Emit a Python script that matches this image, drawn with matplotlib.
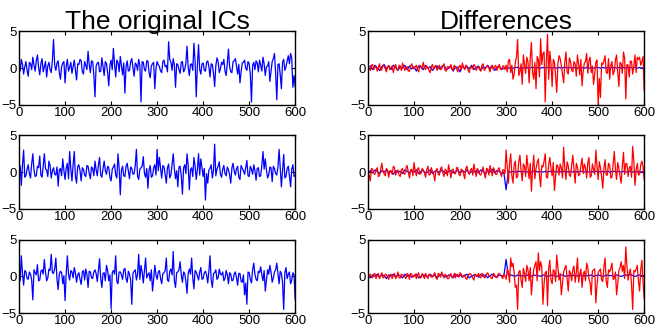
import numpy as np
import matplotlib
matplotlib.use('Agg')
import matplotlib.pyplot as plt

# samples 0, 5, ..., 600 and the in-between samples 2.5, 7.5, ..., 597.5
n = np.arange(0, 601, 5)
n_mid = np.arange(2.5, 600, 5)

# left column: original ICs
ic1 = [0.3, 1.2, -0.8, 0.9, -1.1, 0.6, 1.5, -0.4, 1.8, -0.9,
       1.3, 0.2, -1.2, 0.8, -0.6, 3.9, -0.3, 1.0, -1.5, 0.7,
       -2.0, 1.2, 0.1, -0.7, 1.1, -1.6, 0.5, 1.0, -0.8, 0.4,
       2.3, -0.6, 0.9, -3.9, 0.7, -0.5, 1.4, -1.0, 0.6, -2.4,
       1.1, 2.7, -1.2, 0.8, 1.6, -0.9, -3.4, 1.0, -0.3, 1.3,
       -1.1, 0.5, 1.2, -4.6, 0.8, -0.4, 1.0, -1.3, 0.6, -2.8,
       0.9, 0.2, -0.6, 1.1, 0.4, 3.6, 0.8, 1.3, -2.6, 0.5,
       -0.7, 0.9, -0.2, 3.0, -1.0, 0.6, 3.4, -3.9, 3.2, -0.8,
       0.7, -0.4, 1.0, -1.2, 0.5, -2.5, 1.4, -0.6, 0.8, 1.2,
       -1.0, 2.6, -0.5, 0.9, 1.3, -0.8, -2.0, 0.7, 1.1, -0.3,
       0.6, -4.6, 0.8, 1.0, -0.5, 0.4, 1.5, -1.0, 0.3, -1.8,
       0.9, 2.0, -4.3, 0.6, -2.8, 1.2, 0.2, 1.7, 2.0, -2.6,
       -2.5]
ic1_mid = [-0.4, 0.5, 0.2, -0.3, 0.8, -0.2, 0.4, 1.0, 0.1, 0.6,
           -0.5, 0.9, 0.3, -0.2, 1.1, 0.4, 0.7, -0.6, 0.2, 0.9,
           0.3, -0.4, 0.8, 0.2, -0.3, 0.6, 1.2, -0.5, 0.9, -0.2,
           0.5, 1.0, -0.9, 0.3, 0.8, -0.4, 0.2, 0.9, -0.6, 0.4,
           -0.2, 0.6, 1.1, -0.5, 0.3, 0.7, 0.2, -0.4, 0.9, 0.1,
           0.7, -0.3, 0.4, 0.9, -0.2, 1.0, -0.6, 0.3, 0.8, -0.1,
           0.5, -0.4, 0.9, 0.2, -0.5, 1.2, -0.3, 0.4, 0.6, -0.2,
           0.8, -0.5, 0.7, 0.1, 0.5, -0.3, 1.0, 0.4, -0.2, 0.6,
           -0.3, 0.8, 0.2, 0.6, -0.7, 0.3, 0.9, -0.1, 0.5, -0.4,
           0.7, 0.2, -0.6, 1.0, 0.3, 0.5, -0.5, 0.8, 0.0, 0.9,
           -0.8, 0.4, -0.2, 0.7, 1.1, -0.4, 0.6, 0.2, 0.9, -0.5,
           1.3, -0.7, 0.5, -0.9, 0.8, -0.3, 1.0, 0.6, 1.4, -1.0]
ic2 = [0.2, -1.8, 3.0, -0.5, 1.0, -0.8, 2.5, -0.6, 0.8, 2.2,
       -0.7, 2.5, 0.3, 1.5, -0.8, 0.6, -0.4, -1.9, 0.5, 1.8,
       -1.0, 1.2, 2.8, -1.2, 2.8, -1.5, 1.0, -1.2, 0.4, -0.6,
       0.8, -0.9, 0.5, 1.5, -0.5, 2.0, -0.7, 1.5, -0.3, 0.6,
       -1.2, 0.7, -0.4, 2.5, -3.1, 0.8, -0.6, 1.2, -0.9, 0.5,
       -0.2, 3.1, -1.0, 0.6, 2.1, -0.7, -2.2, 0.9, -0.5, 1.0,
       3.1, 2.0, -0.8, 0.7, -1.5, 1.1, -0.4, 2.5, -0.9, -2.0,
       0.8, -3.0, 1.0, 2.5, -2.4, 0.6, 2.0, -1.0, 2.5, 1.8,
       -0.6, -3.8, -1.5, 0.5, -0.8, 3.8, 0.4, 1.4, -0.7, 0.9,
       -0.5, 0.3, -1.5, 1.2, -0.4, 0.8, -1.0, 0.5, -0.3, 1.6,
       -0.6, 0.4, 1.0, -1.1, 0.6, -0.5, 2.8, 1.8, -0.8, 0.7,
       -1.3, 0.5, -0.4, 3.1, -2.0, 2.4, -0.6, 0.8, -2.0, 1.0,
       -0.4]
ic2_mid = [0.9, 1.0, -0.7, 0.4, -0.2, 1.1, 0.3, -0.5, 0.6, -0.4,
           0.8, 0.4, -0.6, 0.9, 0.2, -0.3, 0.7, 0.3, -0.5, 0.2,
           0.6, -0.9, 0.5, 1.0, -0.6, 0.8, 0.2, 0.6, -0.4, 0.9,
           -0.2, 0.7, -0.5, 0.3, 1.0, -0.4, 0.5, 0.2, 0.8, -0.7,
           0.4, 1.1, -0.8, 0.6, 0.3, -0.5, 0.8, 0.1, 0.7, -0.3,
           0.9, -0.6, 0.4, 0.8, -0.2, 0.5, 0.3, -0.7, 0.6, -0.4,
           0.2, 0.5, 0.9, -0.3, 0.6, -0.8, 1.0, 0.4, 0.2, 0.7,
           -0.5, 0.6, -0.2, 0.9, 0.3, -0.6, 0.8, 0.4, -0.4, 0.6,
           0.5, -0.2, 0.3, 1.0, 0.2, -0.5, 0.8, -0.3, 0.4, -0.2,
           0.7, -0.4, 0.6, 0.1, 0.5, -0.7, 0.9, 0.2, 0.6, -0.5,
           0.8, -0.3, 0.2, 0.5, -0.6, 0.9, 0.4, 0.3, -0.4, 0.6,
           0.8, -0.2, 0.7, 0.6, 0.3, -0.8, 0.5, -0.5, 0.4, -0.6]
ic3 = [0.5, 2.8, -1.2, 0.6, -0.4, 0.3, -3.2, 0.5, 1.6, -0.5,
       0.9, 2.3, -0.6, 1.0, 3.0, 0.4, 2.5, -1.8, 0.7, -1.0,
       -3.3, 2.8, -0.5, 0.6, 1.2, -0.8, 0.5, -1.1, 0.8, 1.0,
       -1.5, 0.6, -0.3, 0.9, -0.7, 2.4, -1.5, 0.5, 1.5, -0.6,
       -4.4, 0.8, 2.8, -1.0, 0.6, -0.4, 1.1, -0.8, 0.3, -3.8,
       0.7, -0.5, 3.0, 1.5, -0.9, 2.5, 0.2, -0.6, -2.0, 1.5,
       -0.4, 0.8, -1.0, 0.5, 2.5, -0.7, 1.0, 3.4, -1.5, 0.6,
       2.0, -0.8, 0.4, -2.3, 1.0, 2.5, -1.7, 0.6, -0.5, 1.2,
       -0.3, 0.7, -0.9, 2.8, -1.5, 0.5, -0.4, 1.0, 0.2, -0.6,
       0.8, -1.0, 0.3, -0.5, 0.6, -1.2, 0.4, -0.8, -2.5, -3.8,
       0.5, -0.9, 1.8, -0.4, 0.7, 1.3, -0.6, -2.0, 0.9, 1.5,
       -0.8, 0.6, 1.8, -1.0, 0.4, -4.5, 1.2, 0.3, -1.0, 0.5,
       -3.2]
ic3_mid = [-0.6, 0.4, 0.8, -0.3, 0.6, -0.5, 0.9, 0.2, -0.6, 0.7,
           0.3, 0.6, -0.2, 0.8, 0.5, 1.0, -0.4, 0.3, 0.5, 0.1,
           0.4, 0.3, 0.8, -0.2, 0.5, 0.2, -0.4, 0.6, -0.5, 0.3,
           0.7, -0.2, 0.6, 0.4, 0.9, -0.3, 0.4, -0.6, 0.8, 0.2,
           0.5, 0.3, -0.7, 0.6, 0.2, 0.9, -0.3, 0.7, -0.5, 0.4,
           0.9, 0.3, -0.4, 0.6, 0.8, -0.2, 0.5, 0.9, -0.4, 0.2,
           0.6, -0.3, 0.4, 0.8, -0.5, 0.7, 0.2, -0.6, 0.5, 0.9,
           0.2, 0.6, -0.7, 0.4, 0.3, -0.2, 0.8, 0.1, 0.6, -0.4,
           0.5, 0.2, 0.7, -0.5, 0.4, 0.9, -0.2, 0.3, 0.6, -0.3,
           0.2, 0.5, -0.6, 0.3, -0.2, 0.4, -0.7, 0.2, -0.9, 0.6,
           -0.4, 0.9, 0.3, -0.6, 0.5, 0.2, 0.8, -0.5, 0.3, 0.6,
           -0.2, 0.9, 0.4, 0.7, -0.8, 0.5, -0.3, 0.6, -0.5, 0.2]

# right column: differences (blue = reference, red = difference)
d1_blue = [0.1, 0.3, -0.2, 0.4, 0.0, -0.3, 0.2, 0.5, -0.1, 0.3,
           -0.2, 0.4, 0.1, -0.3, 0.2, 0.0, 0.4, -0.2, 0.3, -0.1,
           0.2, -0.4, 0.3, 0.1, -0.2, 0.4, 0.0, 0.2, -0.3, 0.1,
           0.3, -0.1, 0.2, 0.4, -0.2, 0.0, 0.3, -0.4, 0.2, 0.1,
           -0.5, 0.3, 0.0, 0.2, -0.1, 0.4, -0.2, 0.1, 0.3, -0.3,
           0.2, 0.0, 0.4, -0.1, 0.2, -0.3, 0.1, 0.3, -0.2, 0.0,
           0.1, 0.0, 0.1, 0.0, 0.1, 0.1, 0.0, 0.1, 0.0, 0.1,
           0.0, 0.1, 0.1, 0.0, 0.1, 0.0, 0.1, 0.0, 0.1, 0.1,
           0.0, 0.1, 0.0, 0.1, 0.0, 0.1, 0.1, 0.0, 0.1, 0.0,
           0.1, 0.0, 0.1, 0.1, 0.0, 0.1, 0.0, 0.1, 0.0, 0.1,
           0.1, 0.0, 0.1, 0.0, 0.1, 0.0, 0.1, 0.1, 0.0, 0.1,
           0.0, 0.1, 0.0, 0.1, 0.1, 0.0, 0.1, 0.0, 0.1, 0.0,
           0.1]
d1_red = [0.2, -0.3, 0.5, 0.1, -0.4, 0.6, -0.2, 0.3, -0.5, 0.4,
          0.1, -0.6, 0.5, -0.2, 0.3, 0.7, -0.3, 0.2, -0.4, 0.6,
          -0.1, 0.4, -0.5, 0.3, 0.8, -0.2, 0.1, -0.6, 0.5, 0.2,
          -0.3, 0.4, -0.1, 0.6, -0.4, 0.2, 0.5, -0.3, 0.1, -0.5,
          0.4, 0.7, -0.2, 0.3, -0.6, 0.1, 0.5, -0.3, 0.2, -0.4,
          0.6, -0.1, 0.3, -0.5, 0.4, 0.2, -0.3, 0.5, -0.2, 0.3,
          0.4, 1.0, -0.6, -1.5, 0.8, 3.9, -0.5, -2.2, 0.6, 1.5,
          -2.0, 3.5, -1.5, -2.8, 1.2, 4.0, 2.0, -4.6, 4.6, 2.3,
          -2.5, 0.8, -3.3, 1.7, 0.3, -2.0, 2.2, -0.8, 0.9, -0.5,
          0.6, 1.8, -0.9, -2.4, 0.7, 2.0, 1.0, -0.6, -2.2, 0.8,
          -5.0, -4.0, 0.5, 1.7, -0.7, -1.5, 0.9, -0.4, 1.8, -2.5,
          0.6, 2.2, -4.2, 0.4, 1.0, -0.8, 1.8, 1.5, 1.5, 0.9,
          -3.0]
d1_red_mid = [-0.1, 0.4, -0.2, 0.3, 0.1, -0.3, 0.4, -0.1, 0.2, -0.2,
              0.3, 0.1, -0.2, 0.4, -0.3, 0.2, 0.0, -0.4, 0.3, 0.1,
              0.2, -0.2, 0.4, -0.1, 0.1, 0.3, -0.3, 0.2, -0.1, 0.4,
              0.1, -0.2, 0.3, -0.3, 0.2, 0.0, -0.2, 0.4, -0.1, 0.2,
              -0.2, 0.1, 0.4, -0.3, 0.2, -0.1, 0.3, 0.1, -0.2, 0.4,
              -0.3, 0.2, 0.0, 0.3, -0.2, 0.4, 0.1, -0.1, 0.3, -0.2,
              -0.5, 1.2, 0.4, -0.8, 1.5, -1.0, 0.6, 1.8, -0.7, 0.9,
              1.4, -0.6, 0.8, 1.6, -1.2, 0.5, 2.2, 1.0, -1.5, 0.7,
              1.2, -1.0, 0.6, 1.3, -0.9, 0.8, -0.5, 1.4, -0.3, 0.9,
              -1.1, 0.6, 1.2, -0.4, 0.9, -0.7, 1.5, 0.3, -0.8, 1.1,
              -1.4, 0.7, 1.0, -0.6, 1.3, 0.4, -0.9, 1.1, -0.5, 0.8,
              -0.7, 1.4, 0.5, -1.2, 0.9, 0.3, -0.6, 1.2, 0.4, 1.6]
d2_blue = [0.0, 0.2, -0.1, 0.3, 0.1, -0.2, 0.2, 0.0, 0.3, -0.1,
           0.1, -0.3, 0.2, 0.0, 0.1, -0.2, 0.3, 0.1, -0.1, 0.2,
           0.0, 0.3, -0.2, 0.1, 0.2, -0.1, 0.0, 0.3, -0.2, 0.1,
           0.2, -0.1, 0.3, 0.0, -0.2, 0.1, 0.2, -0.1, 0.0, 0.3,
           -0.1, 0.2, 0.0, 0.3, -0.2, 0.1, 0.0, 0.2, -0.1, 0.3,
           0.1, -0.2, 0.2, 0.0, 0.4, -0.1, 0.2, 0.1, -0.2, 0.0,
           -2.4, 0.1, 0.0, 0.1, 0.0, 0.1, 0.1, 0.0, 0.1, 0.0,
           0.1, 0.0, 0.1, 0.1, 0.0, 0.1, 0.0, 0.1, 0.0, 0.1,
           0.0, 0.1, 0.0, 0.1, 0.0, 0.1, 0.1, 0.0, 0.1, 0.0,
           0.1, 0.0, 0.1, 0.1, 0.0, 0.1, 0.0, 0.1, 0.0, 0.1,
           0.1, 0.0, 0.1, 0.0, 0.1, 0.0, 0.1, 0.1, 0.0, 0.1,
           0.0, 0.1, 0.0, 0.1, 0.1, 0.0, 0.1, 0.0, 0.1, 0.0,
           0.1]
d2_red = [0.3, -1.2, 0.4, -0.3, 0.6, -0.5, 1.2, -0.2, 0.5, -0.7,
          0.2, 0.8, -0.4, 0.3, -0.6, 0.5, -0.3, 0.9, -0.8, 0.4,
          1.3, -0.5, 0.6, -0.2, 0.3, -0.7, 0.8, -0.3, 0.1, -1.2,
          0.5, -0.4, 0.7, -0.6, 0.2, 1.0, -0.8, 0.4, -0.2, 0.6,
          -0.5, 0.3, -0.9, 0.8, -0.3, 0.5, 1.1, -0.6, 0.2, -0.4,
          0.7, -0.8, 0.4, 0.9, -0.5, 0.2, -0.3, 0.6, -0.6, 0.3,
          3.0, -1.5, 2.5, -1.5, 1.5, -0.6, 2.3, -1.2, 0.8, 2.3,
          -0.9, -2.6, 2.3, 0.5, 1.8, -2.0, 0.7, 2.5, -0.8, 2.0,
          -0.5, -2.5, 1.0, -0.4, 0.6, 3.4, -1.0, 0.8, -0.6, 2.3,
          -1.5, 0.7, -0.3, 1.9, 1.1, -0.8, 2.0, -0.5, 0.4, 3.0,
          -1.0, 0.6, -2.2, 1.7, -0.4, 0.9, -0.7, 2.8, -1.0, 0.5,
          -1.5, 2.7, 1.2, -0.6, 0.8, 3.5, -1.8, 1.2, -0.3, 1.5,
          -1.0]
d2_red_mid = [-0.4, 0.5, -0.2, 0.3, -0.6, 0.4, 0.1, -0.5, 0.3, 0.2,
              -0.3, 0.6, 0.1, -0.4, 0.3, -0.2, 0.5, 0.0, 0.3, -0.5,
              0.2, 0.4, -0.3, 0.5, -0.1, 0.3, -0.4, 0.6, -0.2, 0.2,
              -0.3, 0.5, -0.1, 0.4, -0.5, 0.2, 0.3, -0.2, 0.6, -0.3,
              0.4, -0.2, 0.5, 0.0, 0.3, -0.4, 0.2, 0.5, -0.3, 0.1,
              -0.2, 0.5, -0.4, 0.2, 0.6, -0.3, 0.4, -0.1, 0.3, -0.2,
              0.8, 1.2, -0.5, 1.0, -0.8, 1.4, 0.3, 1.1, -0.6, 0.7,
              1.2, 0.4, -0.9, 1.3, -0.4, 0.9, 1.5, -0.7, 1.0, 0.5,
              1.3, -0.6, 0.8, 1.1, -0.8, 0.6, 1.4, -0.4, 1.0, 0.3,
              1.2, -0.5, 0.9, -0.2, 0.6, 1.3, -0.7, 1.1, -0.3, 0.8,
              1.4, -0.6, 0.5, -0.4, 1.2, -0.8, 1.0, 0.4, 1.3, -0.5,
              0.9, -0.3, 1.1, 0.6, -0.7, 1.5, 0.3, -0.4, 1.0, 0.7]
d3_blue = [0.1, -0.2, 0.2, 0.0, 0.3, -0.1, 0.2, 0.1, -0.3, 0.2,
           0.0, 0.3, -0.1, 0.2, 0.1, -0.2, 0.3, 0.0, 0.2, -0.1,
           0.1, 0.3, -0.2, 0.0, 0.2, 0.1, -0.1, 0.3, 0.0, 0.2,
           -0.2, 0.1, 0.3, 0.0, -0.1, 0.2, 0.1, -0.2, 0.3, 0.0,
           0.2, -0.1, 0.1, 0.3, -0.2, 0.0, 0.2, 0.1, -0.1, 0.3,
           0.0, 0.2, -0.2, 0.1, 0.3, 0.0, -0.1, 0.2, 0.1, 0.0,
           2.3, 0.1, 0.2, 0.1, 0.0, 0.2, 0.1, 0.1, 0.0, 0.2,
           0.1, 0.0, 0.2, 0.1, 0.1, 0.0, 0.2, 0.1, 0.0, 0.1,
           0.2, 0.1, 0.0, 0.1, 0.2, 0.1, 0.0, 0.1, 0.1, 0.2,
           0.0, 0.1, 0.2, 0.1, 0.0, 0.1, 0.1, 0.2, 0.0, 0.1,
           0.2, 0.1, 0.0, 0.1, 0.2, 0.1, 0.1, 0.0, 0.2, 0.1,
           0.0, 0.1, 0.2, 0.1, 0.3, 0.1, 0.0, 0.1, 0.2, 0.1,
           0.1]
d3_red = [-0.5, 0.3, -0.2, 0.4, 0.1, -0.3, 0.5, -0.1, 0.2, -0.4,
          0.3, 0.1, -0.3, 0.6, -0.2, 0.2, -0.1, 0.4, -0.4, 0.3,
          0.0, -0.3, 0.5, -0.2, 0.1, 0.4, -0.3, 0.2, -0.1, 0.5,
          -0.4, 0.3, 0.6, -0.2, 0.1, -0.3, 0.4, 0.0, -0.2, 0.3,
          0.5, -0.1, 0.2, -0.4, 0.3, 0.1, -0.5, 0.2, 0.4, -0.2,
          0.3, -0.1, 0.5, 0.1, -0.3, 0.2, -0.2, 0.4, 0.0, 0.3,
          -0.4, 0.6, 2.5, 1.8, -1.5, -4.5, 0.8, -1.5, 0.4, 1.5,
          -0.6, -2.5, 0.9, 2.0, 3.2, 2.0, -3.8, 0.5, -4.0, 2.2,
          -1.0, 0.7, 2.9, -0.5, -2.5, 0.6, 1.5, -2.0, 0.4, 1.0,
          -0.8, 2.5, 0.3, -1.5, 0.7, 1.8, -0.4, -2.5, 0.9, -3.6,
          0.5, 1.0, -0.7, 2.5, -1.5, 0.6, 1.8, -0.3, -2.5, 0.8,
          2.0, 1.5, 4.0, -0.5, 1.0, -4.5, 0.6, 1.5, -2.0, 2.2,
          -3.0]
d3_red_mid = [0.2, -0.1, 0.3, -0.3, 0.4, 0.1, -0.2, 0.3, -0.1, 0.2,
              -0.3, 0.4, 0.0, -0.2, 0.3, 0.1, -0.3, 0.2, 0.4, -0.1,
              0.3, 0.2, -0.2, 0.4, -0.3, 0.1, 0.3, -0.1, 0.2, -0.2,
              0.4, -0.1, 0.2, 0.3, -0.3, 0.1, -0.2, 0.4, 0.2, -0.1,
              0.3, 0.1, -0.3, 0.2, 0.4, -0.2, 0.3, 0.0, -0.1, 0.4,
              -0.2, 0.3, 0.1, -0.2, 0.4, -0.1, 0.3, 0.2, -0.3, 0.1,
              1.0, -0.8, 1.3, 0.5, -1.2, 0.6, -0.5, 1.1, -0.7, 0.9,
              1.2, -0.4, 1.5, -0.6, 0.8, 1.3, -1.0, 0.7, 1.1, -0.5,
              0.9, -0.7, 1.2, 0.4, -0.9, 1.1, -0.3, 0.8, -0.6, 1.4,
              0.5, -0.8, 1.0, 0.3, -0.6, 1.2, -0.9, 0.7, 1.0, -1.2,
              0.8, -0.5, 1.3, -0.7, 0.9, 1.1, -0.4, 0.6, -1.0, 1.2,
              0.7, -0.3, 1.4, 0.5, -1.1, 0.8, 1.0, -0.6, 0.9, -0.8]


def merge(main, mid):
    # put the in-between samples back in order
    x = np.concatenate([n, n_mid])
    y = np.concatenate([main, mid])
    order = np.argsort(x)
    return x[order], y[order]


left_data = [merge(ic1, ic1_mid), merge(ic2, ic2_mid), merge(ic3, ic3_mid)]
right_blue = [d1_blue, d2_blue, d3_blue]
right_red = [merge(d1_red, d1_red_mid), merge(d2_red, d2_red_mid),
             merge(d3_red, d3_red_mid)]

plt.rcParams['font.family'] = ['Liberation Sans', 'DejaVu Sans']

fig = plt.figure(figsize=(6.56, 3.31), dpi=100)
bottoms = [0.683, 0.369, 0.054]
h = 0.222
axes = []
for r in range(3):
    axl = fig.add_axes([0.029, bottoms[r], 0.421, h])
    axl.plot(*left_data[r], color='#0000ff', lw=0.9)
    axr = fig.add_axes([0.561, bottoms[r], 0.421, h])
    axr.plot(n, right_blue[r], color='#0000ff', lw=0.9)
    axr.plot(*right_red[r], color='#ff0000', lw=0.9)
    axes += [axl, axr]

for ax in axes:
    ax.set_xlim(0, 600)
    ax.set_ylim(-5, 5)
    ax.set_xticks([0, 100, 200, 300, 400, 500, 600])
    ax.set_yticks([-5, 0, 5])
    ax.tick_params(direction='in', top=True, right=True, length=3,
                   labelsize=9.5, pad=1.5)
    for s in ax.spines.values():
        s.set_linewidth(1.0)

axes[0].set_title('The original ICs', fontsize=19, pad=2)
axes[1].set_title('Differences', fontsize=19, pad=2)

fig.savefig('out.png', dpi=100)
